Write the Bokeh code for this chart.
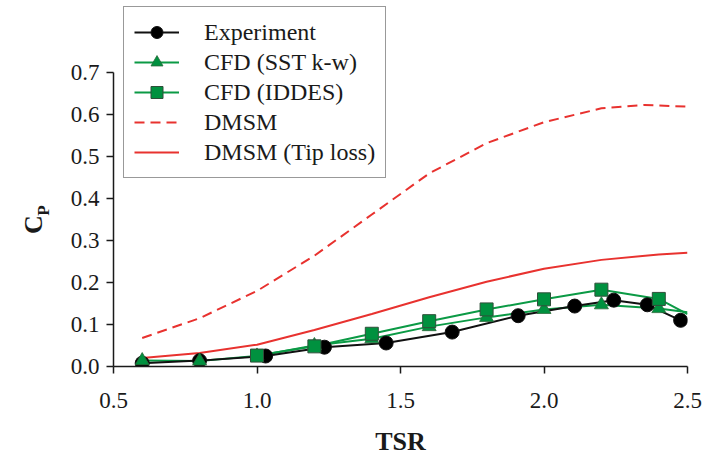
import math
from bokeh.plotting import figure
from bokeh.layouts import row
from bokeh.models import Legend, LegendItem, FixedTicker, CustomJSTickFormatter
from bokeh.core.properties import value
from bokeh.embed import file_html
from bokeh.resources import INLINE

# ---- data ----
exp_x = [0.6, 0.8, 1.03, 1.235, 1.45, 1.68, 1.91, 2.107, 2.243, 2.36, 2.476]
exp_y = [0.008, 0.014, 0.025, 0.046, 0.056, 0.082, 0.121, 0.144, 0.158, 0.147, 0.110]

sst_x = [0.6, 0.8, 1.0, 1.2, 1.4, 1.6, 1.8, 2.0, 2.2, 2.4, 2.5]
sst_y = [0.014, 0.013, 0.025, 0.050, 0.066, 0.095, 0.117, 0.136, 0.147, 0.138, 0.129]

iddes_x = [1.0, 1.2, 1.4, 1.6, 1.8, 2.0, 2.2, 2.4, 2.5]
iddes_y = [0.026, 0.048, 0.078, 0.108, 0.136, 0.160, 0.183, 0.161, 0.125]

dmsm_x = [0.6, 0.8, 1.0, 1.2, 1.4, 1.5, 1.6, 1.8, 2.0, 2.2, 2.35, 2.5]
dmsm_y = [0.068, 0.115, 0.180, 0.264, 0.362, 0.411, 0.460, 0.532, 0.582, 0.615, 0.623, 0.619]

tip_x = [0.6, 0.8, 1.0, 1.2, 1.4, 1.6, 1.8, 2.0, 2.2, 2.4, 2.5]
tip_y = [0.020, 0.032, 0.052, 0.087, 0.125, 0.165, 0.202, 0.233, 0.254, 0.267, 0.271]

x_ticks = [0.5, 1.0, 1.5, 2.0, 2.5]
y_ticks = [0.0, 0.1, 0.2, 0.3, 0.4, 0.5, 0.6, 0.7]

y_label_main = "C"
y_label_sub = "P"
x_label = "TSR"

GREEN = "#0b9a45"
GREEN_FILL = "#00913f"
RED = "#e8322f"
FONT = "Liberation Serif"
INK = "#1a1a1a"

H = 457
LEFT_W = 60
TOP = 5
BOTTOM = 91

# ---- main plot ----
p = figure(width=704 - LEFT_W, height=H, output_backend="svg", toolbar_location=None,
           x_range=(0.5, 2.5), y_range=(0.0, 0.86),
           min_border_left=113 - LEFT_W, min_border_right=17,
           min_border_top=TOP, min_border_bottom=BOTTOM)
p.frame_width = 574
p.frame_height = H - TOP - BOTTOM
p.outline_line_color = None
p.grid.visible = False
p.background_fill_color = "white"
p.border_fill_color = "white"

p.xaxis.major_label_text_font = FONT
p.yaxis.major_label_text_font = FONT
p.xaxis.major_label_text_font_size = "23px"
p.yaxis.major_label_text_font_size = "23px"
p.axis.major_label_text_color = INK
p.axis.axis_line_color = INK
p.axis.axis_line_width = 1.5
p.axis.major_tick_line_color = INK
p.axis.major_tick_line_width = 1.5
p.axis.major_tick_out = 7
p.axis.major_tick_in = 0
p.axis.minor_tick_line_color = None

p.xaxis.ticker = FixedTicker(ticks=x_ticks)
p.yaxis.ticker = FixedTicker(ticks=y_ticks)
p.xaxis.formatter = CustomJSTickFormatter(code="return tick.toFixed(1);")
p.yaxis.formatter = CustomJSTickFormatter(code="return tick.toFixed(1);")
p.yaxis.bounds = (0.0, 0.7)
p.xaxis.major_label_standoff = 19
p.yaxis.major_label_standoff = 7

p.xaxis.axis_label = x_label
p.xaxis.axis_label_text_font = FONT
p.xaxis.axis_label_text_font_style = "bold"
p.xaxis.axis_label_text_font_size = "26px"
p.xaxis.axis_label_text_color = INK
p.xaxis.axis_label_standoff = 16

# lines
r_dmsm = p.line(dmsm_x, dmsm_y, line_color=RED, line_width=2, line_dash="10 6")
r_tip = p.line(tip_x, tip_y, line_color=RED, line_width=2)

r_sst_l = p.line(sst_x, sst_y, line_color=GREEN, line_width=2)
r_iddes_l = p.line(iddes_x, iddes_y, line_color=GREEN, line_width=2)
r_exp_l = p.line(exp_x, exp_y, line_color="#111111", line_width=2)

r_exp_m = p.scatter(exp_x, exp_y, marker="circle", size=14, fill_color="black", line_color="#111111")
r_sst_m = p.scatter(sst_x[:-1], sst_y[:-1], marker="triangle", size=14,
                    fill_color=GREEN_FILL, line_color="#2a6a3a", line_width=0.8)
r_iddes_m = p.scatter(iddes_x[:-1], iddes_y[:-1], marker="square", size=13,
                      fill_color=GREEN_FILL, line_color="#2f4f3a", line_width=1)

legend = Legend(items=[
    LegendItem(label="Experiment", renderers=[r_exp_l, r_exp_m]),
    LegendItem(label="CFD (SST k-w)", renderers=[r_sst_l, r_sst_m]),
    LegendItem(label="CFD (IDDES)", renderers=[r_iddes_l, r_iddes_m]),
    LegendItem(label="DMSM", renderers=[r_dmsm]),
    LegendItem(label="DMSM (Tip loss)", renderers=[r_tip]),
], location=(10, 188))
legend.label_text_font = FONT
legend.label_text_font_size = "24px"
legend.label_text_color = INK
legend.glyph_width = 45
legend.glyph_height = 30
legend.label_height = 20
legend.label_standoff = 25
legend.spacing = 0
legend.padding = 10
legend.margin = 0
legend.border_line_color = "#333333"
legend.border_line_width = 1.2
legend.background_fill_alpha = 1.0
p.add_layout(legend)

# ---- left strip holding the rotated C_P axis title ----
# its frame is aligned with the main frame by the row layout; the y range is
# chosen so that a data value equals (H - pixel row from the top of the page)
lab = figure(width=LEFT_W, height=H, output_backend="svg", toolbar_location=None,
             x_range=(0, LEFT_W), y_range=(BOTTOM, H - TOP),
             min_border_left=0, min_border_right=0,
             min_border_top=TOP, min_border_bottom=BOTTOM)
lab.frame_width = LEFT_W
lab.frame_height = H - TOP - BOTTOM
lab.axis.visible = False
lab.grid.visible = False
lab.outline_line_color = None
lab.background_fill_color = "white"
lab.border_fill_color = "white"
lab.text(x=[33], y=[H - 224], text=[y_label_main], angle=math.pi / 2,
         text_align="center", text_baseline="alphabetic",
         text_font=value(FONT), text_font_style="bold", text_font_size="26px",
         text_color=INK)
lab.text(x=[43], y=[H - 210], text=[y_label_sub], angle=math.pi / 2,
         text_align="center", text_baseline="alphabetic",
         text_font=value(FONT), text_font_style="bold", text_font_size="17px",
         text_color=INK)

layout = row(lab, p, spacing=0)
open("out.html", "w").write(file_html(layout, INLINE))
